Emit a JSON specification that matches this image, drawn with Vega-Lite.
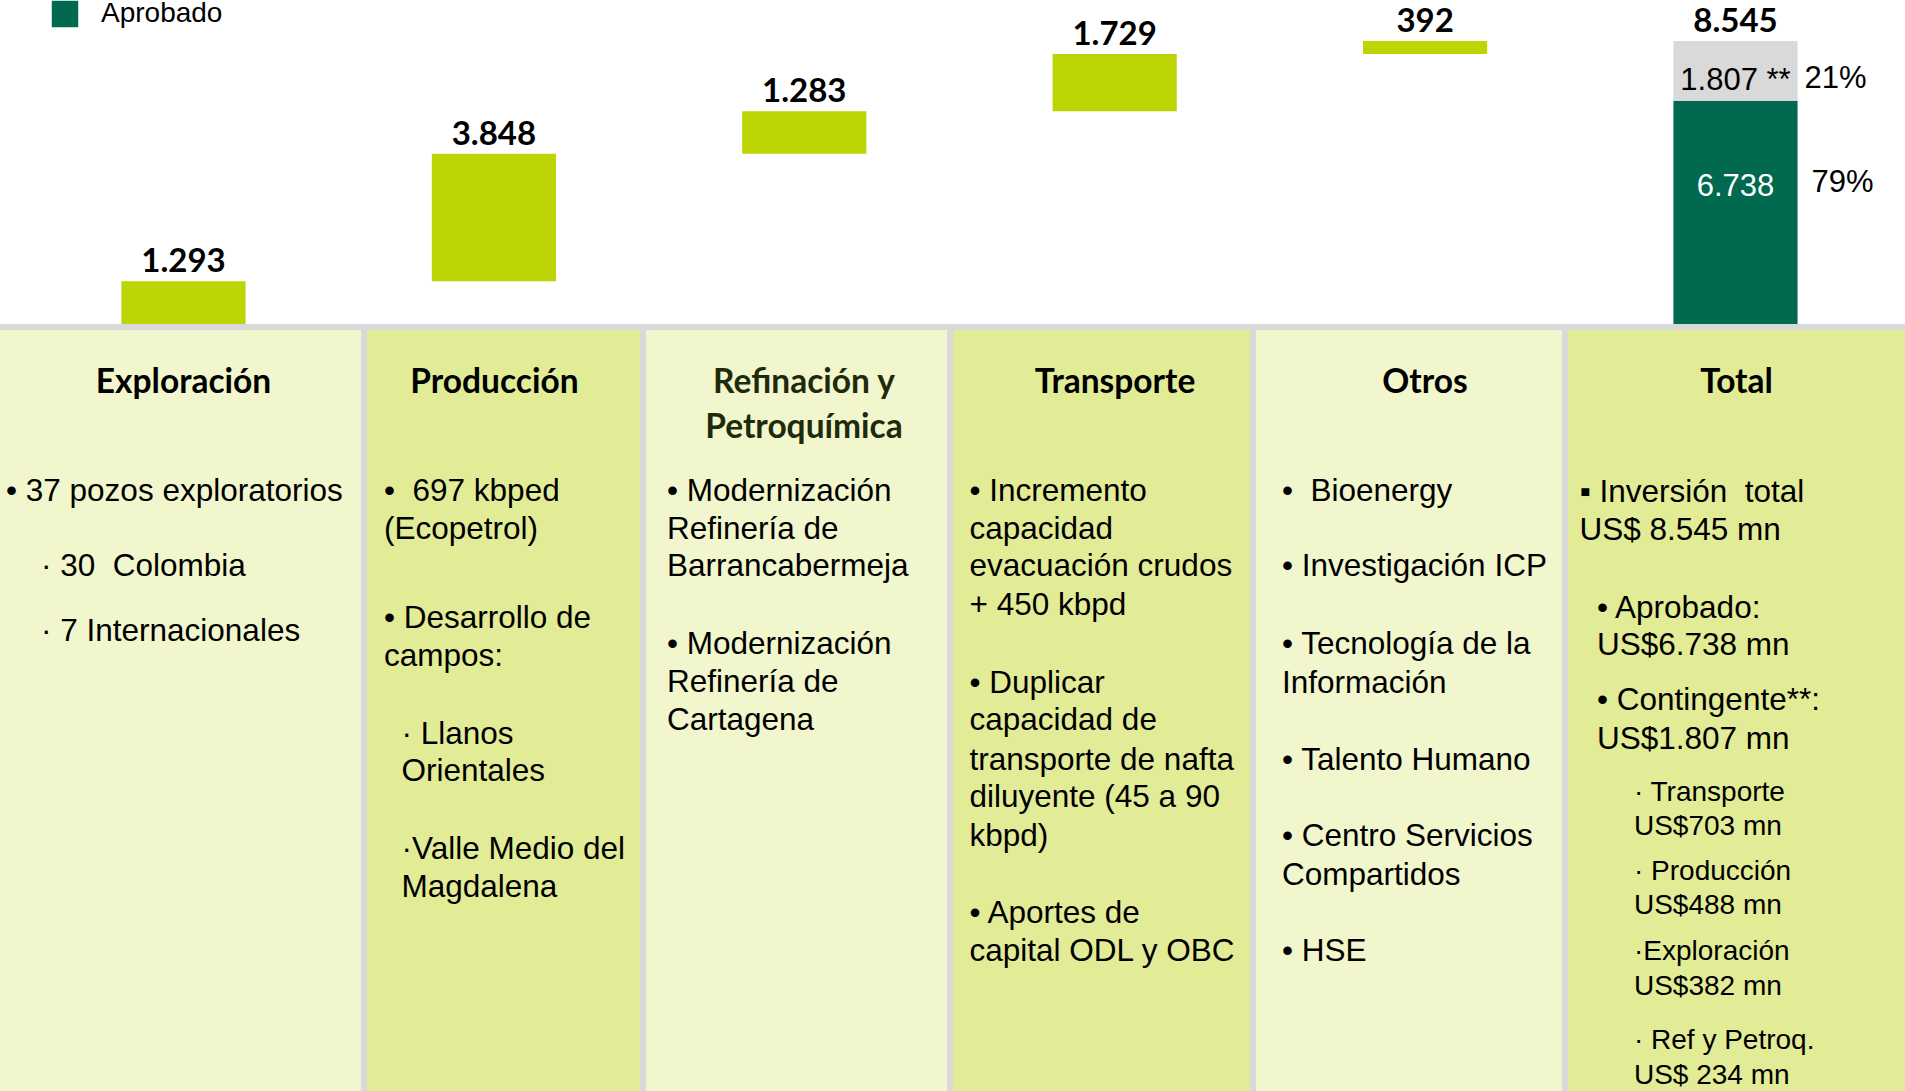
{
  "$schema": "https://vega.github.io/schema/vega-lite/v6.json",
  "padding": 0,
  "background": "#D9D9D9",
  "spacing": 6,
  "bounds": "flush",
  "config": {"view": {"stroke": null}, "font": "Liberation Sans", "text": {"font": "Liberation Sans", "color": "black"}},
  "datasets": {
    "bars": [
      {"cat": "Exploración", "part": "Inversión", "start": 0, "end": 1293, "top": "1.293"},
      {"cat": "Producción", "part": "Inversión", "start": 1293, "end": 5141, "top": "3.848"},
      {"cat": "Refinación y Petroquímica", "part": "Inversión", "start": 5141, "end": 6424, "top": "1.283"},
      {"cat": "Transporte", "part": "Inversión", "start": 6424, "end": 8153, "top": "1.729"},
      {"cat": "Otros", "part": "Inversión", "start": 8153, "end": 8545, "top": "392"},
      {"cat": "Total", "part": "Aprobado", "start": 0, "end": 6738, "inner": "6.738", "pct": "79%"},
      {"cat": "Total", "part": "Contingente", "start": 6738, "end": 8545, "top": "8.545", "inner": "1.807 **", "pct": "21%"}
    ],
    "table": [
      {"col": "Exploración", "kind": "header", "line": -2.85, "text": "Exploración"},
      {"col": "Exploración", "kind": "body", "line": 0, "text": "• 37 pozos exploratorios"},
      {"col": "Exploración", "kind": "body", "line": 1.96, "text": "\u200b\u00a0\u00a0\u00a0\u00a0· 30\u00a0 Colombia"},
      {"col": "Exploración", "kind": "body", "line": 3.64, "text": "\u200b\u00a0\u00a0\u00a0\u00a0· 7 Internacionales"},

      {"col": "Producción", "kind": "header", "line": -2.85, "text": "Producción"},
      {"col": "Producción", "kind": "body", "line": 0, "text": "•\u00a0 697 kbped"},
      {"col": "Producción", "kind": "body", "line": 0.98, "text": "(Ecopetrol)"},
      {"col": "Producción", "kind": "body", "line": 3.32, "text": "• Desarrollo de"},
      {"col": "Producción", "kind": "body", "line": 4.31, "text": "campos:"},
      {"col": "Producción", "kind": "body", "line": 6.33, "text": "\u200b\u00a0\u00a0· Llanos"},
      {"col": "Producción", "kind": "body", "line": 7.31, "text": "\u200b\u00a0\u00a0Orientales"},
      {"col": "Producción", "kind": "body", "line": 9.34, "text": "\u200b\u00a0\u00a0·Valle Medio del"},
      {"col": "Producción", "kind": "body", "line": 10.32, "text": "\u200b\u00a0\u00a0Magdalena"},

      {"col": "Refinación y Petroquímica", "kind": "header", "line": -2.85, "text": "Refinación y"},
      {"col": "Refinación y Petroquímica", "kind": "header", "line": -1.68, "text": "Petroquímica"},
      {"col": "Refinación y Petroquímica", "kind": "body", "line": 0, "text": "• Modernización"},
      {"col": "Refinación y Petroquímica", "kind": "body", "line": 0.98, "text": "Refinería de"},
      {"col": "Refinación y Petroquímica", "kind": "body", "line": 1.96, "text": "Barrancabermeja"},
      {"col": "Refinación y Petroquímica", "kind": "body", "line": 3.99, "text": "• Modernización"},
      {"col": "Refinación y Petroquímica", "kind": "body", "line": 4.97, "text": "Refinería de"},
      {"col": "Refinación y Petroquímica", "kind": "body", "line": 5.98, "text": "Cartagena"},

      {"col": "Transporte", "kind": "header", "line": -2.85, "text": "Transporte"},
      {"col": "Transporte", "kind": "body", "line": 0, "text": "• Incremento"},
      {"col": "Transporte", "kind": "body", "line": 0.98, "text": "capacidad"},
      {"col": "Transporte", "kind": "body", "line": 1.96, "text": "evacuación crudos"},
      {"col": "Transporte", "kind": "body", "line": 2.98, "text": "+ 450 kbpd"},
      {"col": "Transporte", "kind": "body", "line": 5.0, "text": "• Duplicar"},
      {"col": "Transporte", "kind": "body", "line": 5.98, "text": "capacidad de"},
      {"col": "Transporte", "kind": "body", "line": 7.0, "text": "transporte de nafta"},
      {"col": "Transporte", "kind": "body", "line": 7.98, "text": "diluyente (45 a 90"},
      {"col": "Transporte", "kind": "body", "line": 8.99, "text": "kbpd)"},
      {"col": "Transporte", "kind": "body", "line": 10.99, "text": "• Aportes de"},
      {"col": "Transporte", "kind": "body", "line": 12.0, "text": "capital ODL y OBC"},

      {"col": "Otros", "kind": "header", "line": -2.85, "text": "Otros"},
      {"col": "Otros", "kind": "body", "line": 0, "text": "•\u00a0 Bioenergy"},
      {"col": "Otros", "kind": "body", "line": 1.96, "text": "• Investigación ICP"},
      {"col": "Otros", "kind": "body", "line": 3.99, "text": "• Tecnología de la"},
      {"col": "Otros", "kind": "body", "line": 5.0, "text": "Información"},
      {"col": "Otros", "kind": "body", "line": 7.0, "text": "• Talento Humano"},
      {"col": "Otros", "kind": "body", "line": 8.99, "text": "• Centro Servicios"},
      {"col": "Otros", "kind": "body", "line": 10.0, "text": "Compartidos"},
      {"col": "Otros", "kind": "body", "line": 12.0, "text": "• HSE"},

      {"col": "Total", "kind": "header", "line": -2.85, "text": "Total"},
      {"col": "Total", "kind": "body", "line": 0.03, "text": "▪ Inversión\u00a0 total"},
      {"col": "Total", "kind": "body", "line": 1.01, "text": "US$ 8.545 mn"},
      {"col": "Total", "kind": "body", "line": 3.04, "text": "\u200b\u00a0\u00a0• Aprobado:"},
      {"col": "Total", "kind": "body", "line": 4.02, "text": "\u200b\u00a0\u00a0US$6.738 mn"},
      {"col": "Total", "kind": "body", "line": 5.45, "text": "\u200b\u00a0\u00a0• Contingente**:"},
      {"col": "Total", "kind": "body", "line": 6.46, "text": "\u200b\u00a0\u00a0US$1.807 mn"},
      {"col": "Total", "kind": "sub", "line": 7.85, "text": "\u200b\u00a0\u00a0\u00a0\u00a0\u00a0\u00a0\u00a0· Transporte"},
      {"col": "Total", "kind": "sub", "line": 8.74, "text": "\u200b\u00a0\u00a0\u00a0\u00a0\u00a0\u00a0\u00a0US$703 mn"},
      {"col": "Total", "kind": "sub", "line": 9.91, "text": "\u200b\u00a0\u00a0\u00a0\u00a0\u00a0\u00a0\u00a0· Producción"},
      {"col": "Total", "kind": "sub", "line": 10.8, "text": "\u200b\u00a0\u00a0\u00a0\u00a0\u00a0\u00a0\u00a0US$488 mn"},
      {"col": "Total", "kind": "sub", "line": 12.0, "text": "\u200b\u00a0\u00a0\u00a0\u00a0\u00a0\u00a0\u00a0·Exploración"},
      {"col": "Total", "kind": "sub", "line": 12.89, "text": "\u200b\u00a0\u00a0\u00a0\u00a0\u00a0\u00a0\u00a0US$382 mn"},
      {"col": "Total", "kind": "sub", "line": 14.31, "text": "\u200b\u00a0\u00a0\u00a0\u00a0\u00a0\u00a0\u00a0· Ref y Petroq."},
      {"col": "Total", "kind": "sub", "line": 15.23, "text": "\u200b\u00a0\u00a0\u00a0\u00a0\u00a0\u00a0\u00a0US$ 234 mn"}
    ]
  },
  "vconcat": [
    {
      "width": 1905,
      "height": 324,
      "view": {"fill": "white", "stroke": null},
      "data": {"name": "bars"},
      "encoding": {
        "x": {"field": "cat", "type": "nominal", "axis": null, "sort": null,
              "scale": {"domain": ["Exploración", "Producción", "Refinación y Petroquímica", "Transporte", "Otros", "Total"], "paddingInner": 0, "paddingOuter": 0.0686, "align": 0.664}}
      },
      "layer": [
        {
          "mark": {"type": "bar", "width": {"band": 0.4}},
          "encoding": {
            "y": {"field": "start", "type": "quantitative", "axis": null, "scale": {"domain": [0, 9783], "nice": false}},
            "y2": {"field": "end"},
            "color": {"field": "part", "type": "nominal",
                      "scale": {"domain": ["Inversión", "Contingente", "Aprobado"], "range": ["#BDD505", "#D9D9D9", "#00694F"]},
                      "legend": {"values": ["Aprobado"], "orient": "none", "legendX": 51, "legendY": 0, "title": null, "symbolType": "square", "symbolSize": 700, "symbolStrokeWidth": 0, "labelFontSize": 28, "labelFont": "Liberation Sans", "labelColor": "black", "labelOffset": 22, "padding": 0}}
          }
        },
        {
          "transform": [{"filter": "isValid(datum.top)"}],
          "mark": {"type": "text", "font": "Lato", "fontWeight": "bold", "fontSize": 33, "baseline": "alphabetic", "dy": -9, "color": "black"},
          "encoding": {
            "y": {"field": "end", "type": "quantitative", "axis": null, "scale": {"domain": [0, 9783], "nice": false}},
            "text": {"field": "top"}
          }
        },
        {
          "transform": [{"filter": "datum.part === 'Contingente'"}],
          "mark": {"type": "text", "fontSize": 31, "baseline": "middle", "dy": 40, "color": "black"},
          "encoding": {
            "y": {"field": "end", "type": "quantitative", "axis": null, "scale": {"domain": [0, 9783], "nice": false}},
            "text": {"field": "inner"}
          }
        },
        {
          "transform": [{"filter": "datum.part === 'Contingente'"}],
          "mark": {"type": "text", "fontSize": 31, "baseline": "middle", "align": "left", "dx": 69, "dy": 38, "color": "black"},
          "encoding": {
            "y": {"field": "end", "type": "quantitative", "axis": null, "scale": {"domain": [0, 9783], "nice": false}},
            "text": {"field": "pct"}
          }
        },
        {
          "transform": [{"filter": "datum.part === 'Aprobado'"}],
          "mark": {"type": "text", "fontSize": 31, "baseline": "middle", "dy": 86, "color": "white"},
          "encoding": {
            "y": {"field": "end", "type": "quantitative", "axis": null, "scale": {"domain": [0, 9783], "nice": false}},
            "text": {"field": "inner"}
          }
        },
        {
          "transform": [{"filter": "datum.part === 'Aprobado'"}],
          "mark": {"type": "text", "fontSize": 31, "baseline": "middle", "align": "left", "dx": 76, "dy": 82, "color": "black"},
          "encoding": {
            "y": {"field": "end", "type": "quantitative", "axis": null, "scale": {"domain": [0, 9783], "nice": false}},
            "text": {"field": "pct"}
          }
        }
      ]
    },
    {
      "spacing": 6,
      "bounds": "flush",
      "hconcat": [
        {
          "width": 361, "height": 761,
          "view": {"fill": "#F1F6CC", "stroke": null},
          "data": {"name": "table"},
          "transform": [{"filter": "datum.col === 'Exploración'"}],
          "encoding": {
            "x": {"field": "col", "type": "nominal", "axis": null, "scale": {"paddingInner": 0, "paddingOuter": 0}},
            "y": {"field": "line", "type": "quantitative", "axis": null, "scale": {"domain": [-4.222, 15.611], "reverse": true, "nice": false, "zero": false}},
            "text": {"field": "text"}
          },
          "layer": [
            {"transform": [{"filter": "datum.kind === 'header'"}],
             "mark": {"type": "text", "font": "Lato", "fontWeight": "bold", "fontSize": 33.5, "align": "center", "baseline": "middle", "dx": 3}},
            {"transform": [{"filter": "datum.kind === 'body'"}],
             "mark": {"type": "text", "fontSize": 31.5, "align": "left", "baseline": "middle", "dx": -174.5}}
          ]
        },
        {
          "width": 273, "height": 761,
          "view": {"fill": "#E2EB96", "stroke": null},
          "data": {"name": "table"},
          "transform": [{"filter": "datum.col === 'Producción'"}],
          "encoding": {
            "x": {"field": "col", "type": "nominal", "axis": null, "scale": {"paddingInner": 0, "paddingOuter": 0}},
            "y": {"field": "line", "type": "quantitative", "axis": null, "scale": {"domain": [-4.222, 15.611], "reverse": true, "nice": false, "zero": false}},
            "text": {"field": "text"}
          },
          "layer": [
            {"transform": [{"filter": "datum.kind === 'header'"}],
             "mark": {"type": "text", "font": "Lato", "fontWeight": "bold", "fontSize": 33.5, "align": "center", "baseline": "middle", "dx": -9}},
            {"transform": [{"filter": "datum.kind === 'body'"}],
             "mark": {"type": "text", "fontSize": 31.5, "align": "left", "baseline": "middle", "dx": -119.5}}
          ]
        },
        {
          "width": 301, "height": 761,
          "view": {"fill": "#F1F6CC", "stroke": null},
          "data": {"name": "table"},
          "transform": [{"filter": "datum.col === 'Refinación y Petroquímica'"}],
          "encoding": {
            "x": {"field": "col", "type": "nominal", "axis": null, "scale": {"paddingInner": 0, "paddingOuter": 0}},
            "y": {"field": "line", "type": "quantitative", "axis": null, "scale": {"domain": [-4.222, 15.611], "reverse": true, "nice": false, "zero": false}},
            "text": {"field": "text"}
          },
          "layer": [
            {"transform": [{"filter": "datum.kind === 'header'"}],
             "mark": {"type": "text", "font": "Lato", "fontWeight": "bold", "fontSize": 33.5, "align": "center", "baseline": "middle", "dx": 7.5, "color": "#1E2A0C"}},
            {"transform": [{"filter": "datum.kind === 'body'"}],
             "mark": {"type": "text", "fontSize": 31.5, "align": "left", "baseline": "middle", "dx": -129.5}}
          ]
        },
        {
          "width": 297, "height": 761,
          "view": {"fill": "#E2EB96", "stroke": null},
          "data": {"name": "table"},
          "transform": [{"filter": "datum.col === 'Transporte'"}],
          "encoding": {
            "x": {"field": "col", "type": "nominal", "axis": null, "scale": {"paddingInner": 0, "paddingOuter": 0}},
            "y": {"field": "line", "type": "quantitative", "axis": null, "scale": {"domain": [-4.222, 15.611], "reverse": true, "nice": false, "zero": false}},
            "text": {"field": "text"}
          },
          "layer": [
            {"transform": [{"filter": "datum.kind === 'header'"}],
             "mark": {"type": "text", "font": "Lato", "fontWeight": "bold", "fontSize": 33.5, "align": "center", "baseline": "middle", "dx": 13.5}},
            {"transform": [{"filter": "datum.kind === 'body'"}],
             "mark": {"type": "text", "fontSize": 31.5, "align": "left", "baseline": "middle", "dx": -132}}
          ]
        },
        {
          "width": 306, "height": 761,
          "view": {"fill": "#F1F6CC", "stroke": null},
          "data": {"name": "table"},
          "transform": [{"filter": "datum.col === 'Otros'"}],
          "encoding": {
            "x": {"field": "col", "type": "nominal", "axis": null, "scale": {"paddingInner": 0, "paddingOuter": 0}},
            "y": {"field": "line", "type": "quantitative", "axis": null, "scale": {"domain": [-4.222, 15.611], "reverse": true, "nice": false, "zero": false}},
            "text": {"field": "text"}
          },
          "layer": [
            {"transform": [{"filter": "datum.kind === 'header'"}],
             "mark": {"type": "text", "font": "Lato", "fontWeight": "bold", "fontSize": 33.5, "align": "center", "baseline": "middle", "dx": 16}},
            {"transform": [{"filter": "datum.kind === 'body'"}],
             "mark": {"type": "text", "fontSize": 31.5, "align": "left", "baseline": "middle", "dx": -127}}
          ]
        },
        {
          "width": 337, "height": 761,
          "view": {"fill": "#E2EB96", "stroke": null},
          "data": {"name": "table"},
          "transform": [{"filter": "datum.col === 'Total'"}],
          "encoding": {
            "x": {"field": "col", "type": "nominal", "axis": null, "scale": {"paddingInner": 0, "paddingOuter": 0}},
            "y": {"field": "line", "type": "quantitative", "axis": null, "scale": {"domain": [-4.222, 15.611], "reverse": true, "nice": false, "zero": false}},
            "text": {"field": "text"}
          },
          "layer": [
            {"transform": [{"filter": "datum.kind === 'header'"}],
             "mark": {"type": "text", "font": "Lato", "fontWeight": "bold", "fontSize": 33.5, "align": "center", "baseline": "middle", "dx": 0}},
            {"transform": [{"filter": "datum.kind === 'body'"}],
             "mark": {"type": "text", "fontSize": 31.5, "align": "left", "baseline": "middle", "dx": -157}},
            {"transform": [{"filter": "datum.kind === 'sub'"}],
             "mark": {"type": "text", "fontSize": 28, "align": "left", "baseline": "middle", "dx": -157}}
          ]
        }
      ]
    }
  ]
}
